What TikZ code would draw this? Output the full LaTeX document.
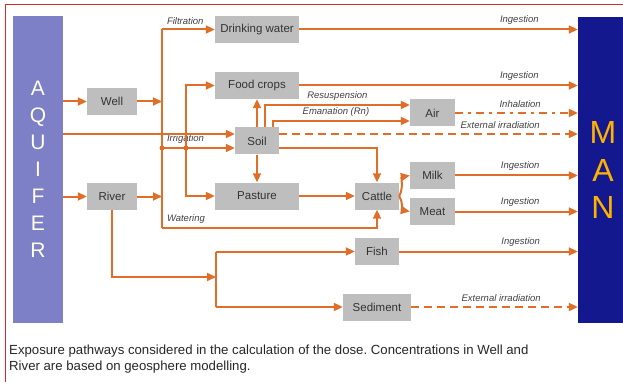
\documentclass[tikz,border=0pt]{standalone}
\usepackage{fontspec}
\setmainfont{Liberation Sans}
\usetikzlibrary{positioning, arrows.meta}

\definecolor{flowc}{HTML}{E16E28}
\definecolor{boxc}{HTML}{BEBEBE}
\definecolor{aquic}{HTML}{7D80C6}
\definecolor{manc}{HTML}{14188E}
\definecolor{framec}{HTML}{D42A2A}

\begin{document}
\frenchspacing
\begin{tikzpicture}[x=1pt, y=-1pt,
  box/.style={fill=boxc, minimum width=44pt, minimum height=27pt, inner sep=0pt, text=black!80, font=\fontsize{11.5}{13}\selectfont},
  flow/.style={->, >={Triangle[length=9pt,width=8pt]}, draw=flowc, line width=2pt},
  plain/.style={draw=flowc, line width=2pt},
  extdash/.style={dash pattern=on 8pt off 5pt},
  dashdot/.style={dash pattern=on 8pt off 5pt on 3pt off 5pt},
  lbl/.style={font=\fontsize{9.5}{10}\selectfont\itshape, text=black!75, inner sep=1pt, above=3pt}]

\useasboundingbox (0,0) rectangle (623,382);
\draw[framec, line width=1pt] (5,382) -- (5,5) -- (623,5);

\node[fill=aquic, minimum width=50pt, minimum height=307pt, inner sep=0pt, align=center, text=white!92!yellow, font=\fontsize{21}{27}\selectfont] at (38,169.5) (aquifer) {A\\Q\\U\\I\\F\\E\\R};
\node[fill=manc, minimum width=50pt, minimum height=306pt, inner sep=0pt, align=center, text=orange!60!yellow, font=\fontsize{32}{37.5}\selectfont] at (603,170) (man) {M\\A\\N};

\node[box, minimum width=84pt] at (257,29.5) (drink) {Drinking water};
\node[box, minimum width=84pt] at (257,85.5) (food) {Food crops};
\node[box, minimum width=50pt] at (112,101.5) (well) {Well};
\node[box] at (257,141) (soil) {Soil};
\node[box, minimum width=50pt] at (112,196.5) (river) {River};
\node[box, minimum width=84pt] at (257,196) (pasture) {Pasture};
\node[box] at (377,196) (cattle) {Cattle};
\node[box, minimum width=45pt] at (432.5,175.5) (milk) {Milk};
\node[box, minimum width=45pt] at (432.5,211.5) (meat) {Meat};
\node[box, minimum width=45pt] at (432.5,113) (air) {Air};
\node[box] at (377,251.5) (fish) {Fish};
\node[box, minimum width=68pt] at (377,307) (sediment) {Sediment};

\coordinate (ftop) at (162,29.5);
\coordinate (fbot) at (162,228);
\coordinate (soilhi) at ([yshift=7pt]soil.west);
\coordinate (soillo) at ([yshift=-7pt]soil.west);
\coordinate (irr) at (ftop |- soillo);
\coordinate (irr2) at (186,148);
\coordinate (fsplit) at (216,277);

% well and river into the trunk
\draw[flow] (well -| aquifer.east) -- (well.west);
\draw[flow] (river -| aquifer.east) -- (river.west);
\draw[flow] (well.east) -- (well -| ftop);
\draw[flow] (river.east) -- (river -| ftop);
\draw[plain] (fbot) -- (ftop);
\draw[flow] (ftop) -- node[lbl, pos=0, anchor=south west, xshift=3pt] (filt) {Filtration} (drink.west);
\draw[flow] (irr) -- node[lbl, pos=0, anchor=south west, xshift=3pt] (irrlbl) {Irrigation} (soillo);
\draw[flow] (irr2) |- (food.west);
\draw[flow] (irr2) |- (pasture.west);
\fill[flowc] (irr) circle (2.5pt) (irr2) circle (2.5pt);
\draw[flow] (fbot) -| node[lbl, pos=0, anchor=south west, xshift=3pt] (waterlbl) {Watering} (cattle.south);
\draw[flow] (aquifer.east |- soilhi) -- (soilhi);

% soil
\draw[flow] (soil.north) -- (food.south);
\draw[flow] (soil.south) -- (pasture.north);
\draw[flow] ([xshift=8pt]soil.north) |- node[lbl, pos=0.75] (resus) {Resuspension} ([yshift=8pt]air.west);
\draw[flow] ([xshift=16pt]soil.north) |- node[lbl, pos=0.73] (eman) {Emanation (Rn)} ([yshift=-8pt]air.west);
\draw[flow, extdash] (soil.east |- soilhi) -- node[lbl, pos=0.74] (extsoil) {External irradiation} (man.west |- soilhi);
\draw[flow] (soil.east |- soillo) -| (cattle.north);

% cattle
\draw[flow] (pasture.east) -- (cattle.west);
\draw[flow] (cattle.east) to[out=60, in=190] (milk.west);
\draw[flow] (cattle.east) to[out=-60, in=170] (meat.west);

% river to fish and sediment
\draw[flow] (river.south) |- (fsplit);
\draw[plain] (fish -| fsplit) -- (sediment -| fsplit);
\draw[flow] (fish -| fsplit) -- (fish.west);
\draw[flow] (sediment -| fsplit) -- (sediment.west);

% into man
\draw[flow] (drink.east) -- node[lbl, pos=0.79] (ingdrink) {Ingestion} (drink -| man.west);
\draw[flow] (food.east) -- node[lbl, pos=0.79] (ingfood) {Ingestion} (food -| man.west);
\draw[flow, dashdot] (air.east) -- node[lbl, pos=0.53] (inhal) {Inhalation} (air -| man.west);
\draw[flow] (milk.east) -- node[lbl, pos=0.53] (ingmilk) {Ingestion} (milk -| man.west);
\draw[flow] (meat.east) -- node[lbl, pos=0.53] (ingmeat) {Ingestion} (meat -| man.west);
\draw[flow] (fish.east) -- node[lbl, pos=0.68] (ingfish) {Ingestion} (fish -| man.west);
\draw[flow, extdash] (sediment.east) -- node[lbl, pos=0.54] (extsed) {External irradiation} (sediment -| man.west);

\node[anchor=north west, align=left, inner sep=0pt, font=\fontsize{13.2}{16}\selectfont, text=black!85] at (9,345) (caption) {Exposure pathways considered in the calculation of the dose. Concentrations in Well and\\River are based on geosphere modelling.};

\end{tikzpicture}
\end{document}
